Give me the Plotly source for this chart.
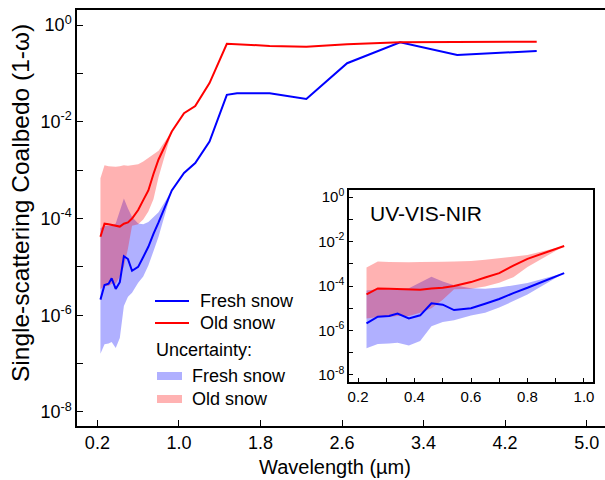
import plotly.graph_objects as go

# Wavelength grid (µm) and single-scattering coalbedo (1 - ω)
wavelength = [0.23, 0.27, 0.31, 0.34, 0.38, 0.42, 0.46, 0.50, 0.54, 0.60,
              0.65, 0.70, 0.75, 0.80, 0.93, 1.05, 1.16, 1.30, 1.47, 1.57,
              1.89, 2.25, 2.65, 3.17, 3.73, 4.51]
fresh_snow = [2.1e-6, 4.2e-6, 4.5e-6, 5.8e-6, 3.5e-6, 4.8e-6, 1.66e-5, 1.45e-5,
              8.3e-6, 1.0e-5, 1.6e-5, 2.6e-5, 4.8e-5, 8.3e-5, 3.8e-4, 8.7e-4,
              1.4e-3, 3.9e-3, 3.6e-2, 3.9e-2, 3.9e-2, 2.95e-2, 0.162, 0.44,
              0.24, 0.29]
old_snow = [4.2e-5, 7.8e-5, 7.6e-5, 7.4e-5, 6.9e-5, 6.8e-5, 7.8e-5, 8.3e-5,
            1.0e-4, 1.5e-4, 2.4e-4, 3.8e-4, 8.3e-4, 1.66e-3, 6.3e-3, 1.5e-2,
            2.1e-2, 6.3e-2, 0.41, 0.40, 0.37, 0.355, 0.40, 0.44, 0.45, 0.45]

# Uncertainty envelopes (UV-VIS-NIR only)
band_wavelength = [0.23, 0.27, 0.31, 0.34, 0.38, 0.42, 0.46, 0.50, 0.54, 0.60,
                   0.65, 0.70, 0.75, 0.80, 0.93]
fresh_low = [1.6e-7, 2.5e-7, 2.6e-7, 2.8e-7, 2.1e-7, 3.4e-7, 1.55e-6, 2.4e-6,
             2.9e-6, 4.7e-6, 6.3e-6, 1.07e-5, 2.1e-5, 4.2e-5, 3.8e-4]
fresh_high = [6.3e-5, 7.1e-5, 7.1e-5, 7.1e-5, 7.9e-5, 1.4e-4, 2.6e-4, 1.6e-4,
              1.07e-4, 7.9e-5, 7.6e-5, 8.5e-5, 1.07e-4, 1.35e-4, 3.8e-4]
old_low = [3.5e-6, 4.0e-6, 4.0e-6, 4.5e-6, 4.5e-6, 6.3e-6, 1.0e-5, 2.4e-5,
           7.1e-5, 7.6e-5, 9.5e-5, 1.4e-4, 2.5e-4, 7.1e-4, 6.3e-3]
old_high = [6.8e-4, 1.26e-3, 1.2e-3, 1.17e-3, 1.17e-3, 1.2e-3, 1.26e-3, 1.23e-3,
            1.26e-3, 1.32e-3, 1.5e-3, 1.78e-3, 2.1e-3, 2.5e-3, 6.3e-3]

# Axis ticks
decades = [1e0, 1e-1, 1e-2, 1e-3, 1e-4, 1e-5, 1e-6, 1e-7, 1e-8]
decade_labels = ["10<sup>0</sup>", "", "10<sup>-2</sup>", "", "10<sup>-4</sup>",
                 "", "10<sup>-6</sup>", "", "10<sup>-8</sup>"]
main_xticks = [0.2, 1.0, 1.8, 2.6, 3.4, 4.2, 5.0]
main_xlabels = ["0.2", "1.0", "1.8", "2.6", "3.4", "4.2", "5.0"]
inset_xticks = [0.2, 0.3, 0.4, 0.5, 0.6, 0.7, 0.8, 0.9, 1.0]
inset_xlabels = ["0.2", "", "0.4", "", "0.6", "", "0.8", "", "1.0"]
INSET_MAX_WL = 0.93

BLUE = "rgb(0,0,255)"
RED = "rgb(255,0,0)"
BLUE_FILL = "rgba(0,0,255,0.31)"
RED_FILL = "rgba(255,0,0,0.30)"
FONT = "Liberation Sans, Arial, sans-serif"

# plot-area geometry in pixels, used to place the hand-made legend
W, H = 605, 480
ML, MR, MT, MB = 77, 0, 10, 54
PW, PH = W - ML - MR, H - MT - MB


def px(x):
    return (x - ML) / PW


def py(y):
    return (H - MB - y) / PH


def envelope(x, lo, hi):
    return x + x[::-1], hi + lo[::-1]


fig = go.Figure()

n_inset = sum(1 for w in wavelength if w <= INSET_MAX_WL)

for xa, ya, n in (("x", "y", len(wavelength)), ("x2", "y2", n_inset)):
    bx, by = envelope(band_wavelength, fresh_low, fresh_high)
    fig.add_trace(go.Scatter(x=bx, y=by, fill="toself", fillcolor=BLUE_FILL,
                             line=dict(width=0), mode="lines",
                             name="Fresh snow uncertainty",
                             xaxis=xa, yaxis=ya, hoverinfo="skip"))
    bx, by = envelope(band_wavelength, old_low, old_high)
    fig.add_trace(go.Scatter(x=bx, y=by, fill="toself", fillcolor=RED_FILL,
                             line=dict(width=0), mode="lines",
                             name="Old snow uncertainty",
                             xaxis=xa, yaxis=ya, hoverinfo="skip"))
    fig.add_trace(go.Scatter(x=wavelength[:n], y=fresh_snow[:n], mode="lines",
                             line=dict(color=BLUE, width=2), name="Fresh snow",
                             xaxis=xa, yaxis=ya))
    fig.add_trace(go.Scatter(x=wavelength[:n], y=old_snow[:n], mode="lines",
                             line=dict(color=RED, width=2), name="Old snow",
                             xaxis=xa, yaxis=ya))

axis_common = dict(showline=True, linecolor="#000", linewidth=1.5,
                   ticks="inside", tickcolor="#000", tickwidth=1,
                   showgrid=False, zeroline=False)

# legend drawn with shapes and text
legend_shapes = [
    dict(type="line", xref="paper", yref="paper", x0=px(155), x1=px(189),
         y0=py(301), y1=py(301), line=dict(color=BLUE, width=2)),
    dict(type="line", xref="paper", yref="paper", x0=px(155), x1=px(189),
         y0=py(323), y1=py(323), line=dict(color=RED, width=2)),
    dict(type="rect", xref="paper", yref="paper", x0=px(157), x1=px(182),
         y0=py(372), y1=py(380), fillcolor=BLUE_FILL, line=dict(width=0)),
    dict(type="rect", xref="paper", yref="paper", x0=px(157), x1=px(182),
         y0=py(395), y1=py(403), fillcolor=RED_FILL, line=dict(width=0)),
]


def label(text, x, y, size=18, anchor="left"):
    return dict(text=text, xref="paper", yref="paper", x=px(x), y=py(y),
                xanchor=anchor, yanchor="middle", showarrow=False,
                font=dict(size=size))


legend_labels = [
    label("Fresh snow", 198, 301),
    label("Old snow", 198, 323),
    label("Uncertainty:", 154, 350),
    label("Fresh snow", 190, 376),
    label("Old snow", 190, 399),
]

fig.update_layout(
    width=W, height=H,
    margin=dict(l=ML, r=MR, t=MT, b=MB),
    paper_bgcolor="white", plot_bgcolor="white",
    font=dict(family=FONT, color="#000", size=18),
    showlegend=False,
    xaxis=dict(range=[0.0, 5.18], tickvals=main_xticks, ticktext=main_xlabels,
               ticklen=6, mirror=True, tickfont=dict(size=18), **axis_common),
    yaxis=dict(type="log", range=[-8.29, 0.31], tickvals=decades,
               ticktext=decade_labels, ticklen=6, tickfont=dict(size=18),
               **axis_common),
    xaxis2=dict(domain=[px(349), px(593)], anchor="y2", range=[0.168, 1.032],
                tickvals=inset_xticks, ticktext=inset_xlabels, ticklen=4,
                mirror=True, tickfont=dict(size=15), **axis_common),
    yaxis2=dict(domain=[py(382), py(190)], anchor="x2", type="log",
                range=[-8.315, 0.315], tickvals=decades, ticktext=decade_labels,
                ticklen=4, mirror=True, tickfont=dict(size=15), **axis_common),
    shapes=legend_shapes,
    annotations=legend_labels + [
        label("UV-VIS-NIR", 368, 213, size=21),
        dict(text="Single-scattering Coalbedo (1-ω)", xref="paper",
             yref="paper", x=px(20), y=py(203), textangle=-90,
             xanchor="center", yanchor="middle", showarrow=False,
             font=dict(size=24.5)),
        label("Wavelength (µm)", 335, 467, size=20, anchor="center"),
    ],
)

fig.write_html("out.html")
